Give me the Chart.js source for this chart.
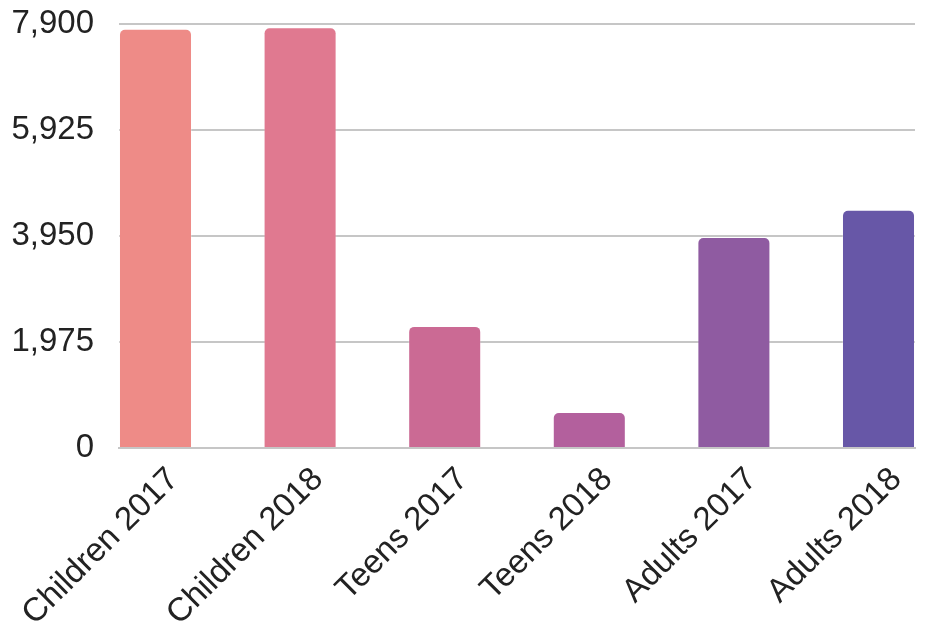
<!DOCTYPE html>
<html>
<head>
<meta charset="utf-8">
<script src="https://cdn.jsdelivr.net/npm/chart.js@4/dist/chart.umd.min.js"></script>
<style>
    html, body { margin: 0; padding: 0; background: #fff; }
    #wrap { width: 925px; height: 629px; }
</style>
</head>
<body>
<div id="wrap"><canvas id="barChart"></canvas></div>
<script>
const categories = ['Children 2017', 'Children 2018', 'Teens 2017', 'Teens 2018', 'Adults 2017', 'Adults 2018'];
const values = [7810, 7840, 2275, 670, 3930, 4440];
const barColors = ['#ee8b87', '#e07990', '#cb6a94', '#b3609d', '#8f5ba1', '#6757a7'];
const yTicks = [0, 1975, 3950, 5925, 7900];

const ctx = document.getElementById('barChart').getContext('2d');
const barChart = new Chart(ctx, {
    type: 'bar',
    data: {
        datasets: [{
            data: values.map((v, i) => ({ x: i, y: v })),
            backgroundColor: barColors,
            borderColor: 'rgba(255,255,255,0.25)',
            borderWidth: { top: 1, left: 1, right: 1, bottom: 0 },
            borderRadius: { topLeft: 6, topRight: 6, bottomLeft: 0, bottomRight: 0 },
            borderSkipped: 'bottom',
            categoryPercentage: 1,
            barPercentage: 0.505
        }]
    },
    options: {
        responsive: true,
        maintainAspectRatio: false,
        animation: false,
        layout: { padding: { top: 24, right: 10, left: 0, bottom: 0 }, autoPadding: false },
        plugins: { legend: { display: false }, tooltip: { enabled: false } },
        scales: {
            x: {
                type: 'linear',
                offset: false,
                min: -0.2524,
                max: categories.length - 1 + 0.2524,
                afterBuildTicks: s => { s.ticks = categories.map((_, i) => ({ value: i })); },
                afterFit: s => { s.height = 181; s.paddingLeft = 0; s.paddingRight = 0; },
                grid: { display: false, offset: false },
                border: { color: '#c6c6c6', width: 2 },
                ticks: {
                    autoSkip: false,
                    minRotation: 45,
                    maxRotation: 45,
                    padding: 4,
                    labelOffset: 18,
                    color: '#222',
                    font: { family: 'Liberation Sans, Arial, sans-serif', size: 33 },
                    callback: v => categories[v]
                }
            },
            y: {
                min: 0,
                max: yTicks[yTicks.length - 1],
                afterBuildTicks: s => { s.ticks = yTicks.map(v => ({ value: v })); },
                // keep the label padding from pushing the plot area down
                afterFit: s => { s.width = 119; s.paddingTop = 0; s.paddingBottom = 0; },
                grid: { color: '#c6c6c6', lineWidth: 2, drawTicks: false },
                border: { display: false },
                ticks: {
                    padding: 25,
                    color: '#222',
                    font: { family: 'Liberation Sans, Arial, sans-serif', size: 33 },
                    callback: v => v.toLocaleString('en-US')
                }
            }
        }
    }
});
</script>
</body>
</html>
